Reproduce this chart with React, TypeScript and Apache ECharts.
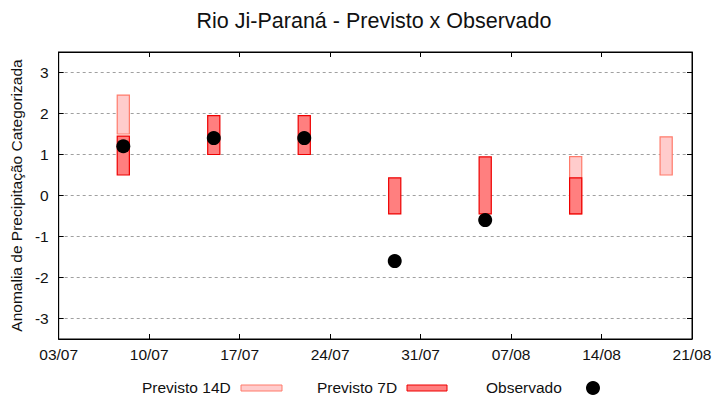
import React, { useEffect, useRef } from "react";
import * as echarts from "echarts";

const YEAR = 2023;
const START = "03/07";
const xTickLabels = ["03/07", "10/07", "17/07", "24/07", "31/07", "07/08", "14/08", "21/08"];
const yTicks = [-3, -2, -1, 0, 1, 2, 3];

const dates14 = ["08/07", "12/08", "19/08"];
const low14 = [1.5, -0.45, 0.5];
const high14 = [2.45, 0.95, 1.43];

const dates7 = ["08/07", "15/07", "22/07", "29/07", "05/08", "12/08"];
const low7 = [0.5, 1.0, 1.0, -0.45, -0.45, -0.45];
const high7 = [1.45, 1.95, 1.95, 0.43, 0.94, 0.43];

const obsDates = ["08/07", "15/07", "22/07", "29/07", "05/08"];
const obsValues = [1.2, 1.4, 1.4, -1.6, -0.6];

const FONT = "'Liberation Sans', Arial, sans-serif";
const FS = 15.5;

function toUTC(d: string) {
  const [dd, mm] = d.split("/").map(Number);
  return Date.UTC(YEAR, mm - 1, dd);
}
function dayOffset(d: string) {
  return Math.round((toUTC(d) - toUTC(START)) / 86400000);
}

const C14 = { fill: "#ffcccc", stroke: "#ff7b6b" };
const C7 = { fill: "#ff7f7f", stroke: "#ee0000" };

function rangeRender(colors: { fill: string; stroke: string }) {
  return (params: any, api: any) => {
    const x = api.value(0);
    const lo = api.value(1);
    const hi = api.value(2);
    const p1 = api.coord([x - 0.47, hi]);
    const p2 = api.coord([x + 0.47, lo]);
    return {
      type: "rect",
      shape: { x: p1[0], y: p1[1], width: p2[0] - p1[0], height: p2[1] - p1[1] },
      style: { fill: colors.fill, stroke: colors.stroke, lineWidth: 1.2 },
    };
  };
}

export default function App() {
  const ref = useRef<HTMLDivElement>(null);
  useEffect(() => {
    if (!ref.current) return;
    const chart = echarts.init(ref.current, null, { renderer: "svg" });
    const maxDay = (xTickLabels.length - 1) * 7;
    const tickStyle = { show: true, inside: true, length: 5, lineStyle: { color: "#000" } };
    const axisLine = { show: true, onZero: false, lineStyle: { color: "#000" } };
    const option: any = {
      animation: false,
      backgroundColor: "#fff",
      textStyle: { fontFamily: FONT },
      grid: {
        left: 55,
        right: 28,
        top: 52,
        bottom: 61,
        show: true,
        borderColor: "#000",
        borderWidth: 1,
        backgroundColor: "transparent",
      },
      xAxis: [
        {
          type: "value",
          min: 0,
          max: maxDay,
          interval: 7,
          position: "bottom",
          axisLine,
          axisTick: tickStyle,
          splitLine: { show: false },
          axisLabel: {
            show: true,
            margin: 7,
            fontSize: FS,
            color: "#111",
            fontFamily: FONT,
            formatter: (v: number) => xTickLabels[Math.round(v / 7)] ?? "",
          },
        },
        {
          type: "value",
          min: 0,
          max: maxDay,
          interval: 7,
          position: "top",
          axisLine,
          axisTick: tickStyle,
          splitLine: { show: false },
          axisLabel: { show: false },
        },
      ],
      yAxis: [
        {
          type: "value",
          min: -3.5,
          max: 3.5,
          splitNumber: 7,
          position: "left",
          name: "Anomalia de Precipitação Categorizada",
          nameLocation: "middle",
          nameGap: 28,
          nameTextStyle: { fontSize: FS, color: "#111", fontFamily: FONT },
          axisLine,
          axisTick: tickStyle,
          splitLine: { show: true, lineStyle: { color: "#a0a0a0", type: [3, 3], width: 1 } },
          axisLabel: {
            margin: 10,
            fontSize: FS,
            color: "#111",
            fontFamily: FONT,
            showMinLabel: false,
            showMaxLabel: false,
            formatter: (v: number) => (yTicks.includes(v) ? String(v) : ""),
          },
        },
        {
          type: "value",
          min: -3.5,
          max: 3.5,
          splitNumber: 7,
          position: "right",
          axisLine,
          axisTick: tickStyle,
          splitLine: { show: false },
          axisLabel: { show: false },
        },
      ],
      series: [
        {
          name: "Previsto 14D",
          type: "custom",
          xAxisIndex: 0,
          yAxisIndex: 0,
          renderItem: rangeRender(C14),
          encode: { x: 0, y: [1, 2] },
          data: dates14.map((d, i) => [dayOffset(d), low14[i], high14[i]]),
          z: 2,
        },
        {
          name: "Previsto 7D",
          type: "custom",
          xAxisIndex: 0,
          yAxisIndex: 0,
          renderItem: rangeRender(C7),
          encode: { x: 0, y: [1, 2] },
          data: dates7.map((d, i) => [dayOffset(d), low7[i], high7[i]]),
          z: 3,
        },
        {
          name: "Observado",
          type: "scatter",
          xAxisIndex: 0,
          yAxisIndex: 0,
          symbol: "circle",
          symbolSize: 14,
          itemStyle: { color: "#000", opacity: 1 },
          data: obsDates.map((d, i) => [dayOffset(d), obsValues[i]]),
          z: 4,
        },
      ],
      graphic: [
        {
          type: "text",
          x: 374,
          y: 21,
          style: {
            text: "Rio Ji-Paraná - Previsto x Observado",
            fontSize: 21.5,
            fontFamily: FONT,
            fill: "#111",
            align: "center",
            verticalAlign: "middle",
          },
        },
        {
          type: "text",
          x: 142,
          y: 387,
          style: { text: "Previsto 14D", fontSize: FS, fontFamily: FONT, fill: "#111", verticalAlign: "middle" },
        },
        {
          type: "rect",
          shape: { x: 241, y: 385, width: 41, height: 6 },
          style: { fill: C14.fill, stroke: C14.stroke, lineWidth: 1 },
        },
        {
          type: "text",
          x: 317,
          y: 387,
          style: { text: "Previsto 7D", fontSize: FS, fontFamily: FONT, fill: "#111", verticalAlign: "middle" },
        },
        {
          type: "rect",
          shape: { x: 407, y: 385, width: 40, height: 6 },
          style: { fill: C7.fill, stroke: C7.stroke, lineWidth: 1 },
        },
        {
          type: "text",
          x: 486,
          y: 387,
          style: { text: "Observado", fontSize: FS, fontFamily: FONT, fill: "#111", verticalAlign: "middle" },
        },
        {
          type: "circle",
          shape: { cx: 593, cy: 388, r: 7 },
          style: { fill: "#000" },
        },
      ],
    };
    chart.setOption(option);
    return () => chart.dispose();
  }, []);
  return (
    <div
      ref={ref}
      style={{ width: 720, height: 400, position: "fixed", left: 0, top: 0 }}
    />
  );
}
